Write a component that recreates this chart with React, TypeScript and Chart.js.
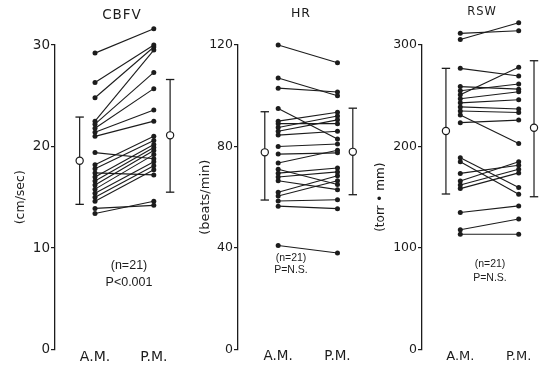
import React, { useEffect, useRef } from 'react';
import { Chart, registerables } from 'chart.js';

Chart.register(...registerables);

// ---------- data ----------
const xLabels = ['A.M.', 'P.M.'];

// CBFV (cm/sec)
const cbfvAM = [29.2, 26.3, 24.8, 22.5, 22.2, 21.8, 21.4, 21.0, 19.4, 18.2, 17.8, 17.4, 17.0, 16.6, 16.2, 15.8, 15.4, 15.0, 14.6, 13.9, 13.4];
const cbfvPM = [31.6, 30.0, 29.8, 29.5, 27.3, 25.7, 23.6, 22.5, 18.8, 21.0, 20.6, 17.2, 20.2, 19.9, 19.6, 19.2, 18.5, 18.1, 17.7, 14.2, 14.6];
const cbfvMean = [18.6, 21.1];
const cbfvLow = [14.3, 15.5];
const cbfvHigh = [22.9, 26.6];
const cbfvTicks = [0, 10, 20, 30];

// HR (beats/min)
const hrAM = [120, 107, 103, 95, 90, 89, 87.5, 86, 84.5, 80, 77, 73.5, 71, 69.5, 68, 66.5, 62, 60.5, 58.5, 56.5, 41];
const hrPM = [113, 100, 101.5, 83, 93.5, 89, 92, 90.5, 86, 81, 77.5, 78.5, 65, 71.5, 70, 63, 68.5, 66.5, 59, 55.5, 38];
const hrMean = [77.7, 77.9];
const hrLow = [58.9, 61.0];
const hrHigh = [93.7, 95.1];
const hrTicks = [0, 40, 80, 120];

// RSW (torr • mm)
const rswAM = [311.5, 305.5, 277, 259, 255, 251, 247, 243, 239, 235, 231, 223.5, 189, 185, 173.5, 166, 162, 158.5, 135, 118, 113.5];
const rswPM = [314, 322, 269.5, 256.5, 261.5, 278, 254, 246, 237, 233.5, 203, 226, 159.5, 153, 181.5, 185, 177.5, 174, 141.5, 128.5, 113.5];
const rswMean = [215.3, 218.5];
const rswLow = [153.2, 150.5];
const rswHigh = [277, 284.5];
const rswTicks = [0, 100, 200, 300];

// ---------- layout (page pixels) ----------
const W = 551;
const H = 369;
const PLOT_TOP = 45;
const PLOT_BOTTOM = 349.5;
const INK = '#1c1c1c';
const FONT = '"DejaVu Sans", sans-serif';

type Geom = {
  left: number; width: number; axis: number; am: number; pm: number;
  meanAm: number; meanPm: number; yTitleCenter: number; yTitleSize: number;
  titleX: number; titleY: number; titleSize: number;
  annX: number; nY: number; pY: number; annSize: number;
  xLabelSize: number; tickSize: number;
};

type Panel = {
  title: string; yTitle: string; am: number[]; pm: number[];
  mean: number[]; low: number[]; high: number[]; ticks: number[];
  nText: string; pText: string; geom: Geom;
};

const panels: Panel[] = [
  {
    title: 'CBFV', yTitle: '(cm/sec)', am: cbfvAM, pm: cbfvPM,
    mean: cbfvMean, low: cbfvLow, high: cbfvHigh, ticks: cbfvTicks,
    nText: '(n=21)', pText: 'P<0.001',
    geom: {
      left: 0, width: 190, axis: 55, am: 96.7, pm: 158, meanAm: 80.7, meanPm: 175,
      yTitleCenter: 21, yTitleSize: 12.5, titleX: 122, titleY: 15, titleSize: 13.5,
      annX: 129, nY: 266, pY: 283, annSize: 12.5, xLabelSize: 14, tickSize: 13.5,
    },
  },
  {
    title: 'HR', yTitle: '(beats/min)', am: hrAM, pm: hrPM,
    mean: hrMean, low: hrLow, high: hrHigh, ticks: hrTicks,
    nText: '(n=21)', pText: 'P=N.S.',
    geom: {
      left: 190, width: 175, axis: 238, am: 280, pm: 342, meanAm: 266, meanPm: 358,
      yTitleCenter: 206, yTitleSize: 13, titleX: 301, titleY: 14, titleSize: 12.5,
      annX: 291, nY: 258, pY: 270, annSize: 10.5, xLabelSize: 13.5, tickSize: 12.5,
    },
  },
  {
    title: 'RSW', yTitle: '(torr \u2022 mm)', am: rswAM, pm: rswPM,
    mean: rswMean, low: rswLow, high: rswHigh, ticks: rswTicks,
    nText: '(n=21)', pText: 'P=N.S.',
    geom: {
      left: 365, width: 186, axis: 422, am: 462, pm: 523, meanAm: 447, meanPm: 539,
      yTitleCenter: 381, yTitleSize: 12, titleX: 482, titleY: 12, titleSize: 11.5,
      annX: 490, nY: 264, pY: 278, annSize: 10.5, xLabelSize: 13, tickSize: 12.5,
    },
  },
];

// draws the points that Chart.js skips because they lie above the plot area
const overflowPointsPlugin = {
  id: 'overflowPoints',
  afterDatasetsDraw(chart: any) {
    const ctx = chart.ctx;
    const area = chart.chartArea;
    const wide = { left: -1e4, top: -1e4, right: 1e4, bottom: 1e4 };
    chart.data.datasets.forEach((_: any, di: number) => {
      const meta = chart.getDatasetMeta(di);
      (meta.data || []).forEach((el: any) => {
        if (el.y < area.top || el.y > area.bottom) el.draw(ctx, wide);
      });
    });
  },
};

function PanelChart({ p }: { p: Panel }) {
  const ref = useRef<HTMLCanvasElement>(null);

  useEffect(() => {
    if (!ref.current) return;
    const g = p.geom;
    const unit = g.pm - g.am;
    const toVal = (px: number) => 1 + (px - g.am) / unit;
    const xMin = toVal(g.axis);
    const xMax = toVal(g.left + g.width);
    const meanXs = [toVal(g.meanAm), toVal(g.meanPm)];
    const yMax = p.ticks[p.ticks.length - 1];

    const datasets: any[] = [];
    datasets.push({
      data: meanXs.map((mx, i) => ({ x: mx, y: p.mean[i] })),
      showLine: false,
      pointStyle: 'circle',
      pointRadius: 3.6,
      pointBackgroundColor: '#ffffff',
      pointBorderColor: INK,
      pointBorderWidth: 1.2,
      clip: false,
      order: 0,
    });
    meanXs.forEach((mx, i) => {
      datasets.push({
        data: [{ x: mx, y: p.low[i] }, { x: mx, y: p.high[i] }],
        showLine: true,
        borderColor: INK,
        borderWidth: 1.2,
        pointStyle: 'line',
        pointRadius: 4.2,
        pointBorderColor: INK,
        pointBorderWidth: 1.3,
        clip: false,
        order: 1,
      });
    });
    p.am.forEach((v, i) => {
      datasets.push({
        data: [{ x: 1, y: v }, { x: 2, y: p.pm[i] }],
        showLine: true,
        borderColor: INK,
        borderWidth: 1.1,
        pointRadius: 2.5,
        pointBackgroundColor: INK,
        pointBorderColor: INK,
        pointBorderWidth: 0,
        clip: false,
        order: 2,
      });
    });

    const textPlugin = {
      id: 'panelText',
      afterDraw(chart: any) {
        const ctx = chart.ctx as CanvasRenderingContext2D;
        ctx.save();
        ctx.fillStyle = INK;
        ctx.textAlign = 'center';
        ctx.textBaseline = 'middle';
        (ctx as any).letterSpacing = '1px';
        ctx.font = `${g.titleSize}px ${FONT}`;
        ctx.fillText(p.title, g.titleX - g.left, g.titleY);
        (ctx as any).letterSpacing = '0px';
        ctx.font = `${g.annSize}px "Liberation Sans", sans-serif`;
        ctx.fillText(p.nText, g.annX - g.left, g.nY);
        ctx.fillText(p.pText, g.annX - g.left, g.pY);
        ctx.restore();
      },
    };

    const chart = new Chart(ref.current, {
      type: 'scatter',
      data: { datasets },
      plugins: [overflowPointsPlugin, textPlugin],
      options: {
        animation: false,
        responsive: false,
        events: [],
        layout: { padding: { top: PLOT_TOP, left: 0, right: 0, bottom: 0 } },
        plugins: { legend: { display: false }, tooltip: { enabled: false }, title: { display: false } },
        scales: {
          x: {
            type: 'linear',
            min: xMin,
            max: xMax,
            afterBuildTicks: (s: any) => { s.ticks = xLabels.map((_, i) => ({ value: i + 1 })); },
            afterFit: (s: any) => { s.height = H - PLOT_BOTTOM; },
            grid: { display: false, drawTicks: false },
            border: { display: false },
            ticks: {
              autoSkip: false,
              maxRotation: 0,
              padding: -1,
              color: INK,
              font: { family: FONT, size: g.xLabelSize },
              callback: (v: any) => xLabels[Math.round(Number(v)) - 1] ?? '',
            },
          },
          y: {
            type: 'linear',
            min: 0,
            max: yMax,
            afterBuildTicks: (s: any) => { s.ticks = p.ticks.map((v) => ({ value: v })); },
            afterFit: (s: any) => { s.width = g.axis - g.left; },
            grid: { drawOnChartArea: false, drawTicks: true, tickLength: 4, color: INK, lineWidth: 1.2 },
            border: { display: true, color: INK, width: 1.3 },
            ticks: {
              color: INK,
              padding: 1,
              font: { family: FONT, size: g.tickSize },
            },
            title: {
              display: true,
              text: p.yTitle,
              color: INK,
              font: { family: FONT, size: g.yTitleSize },
              padding: { top: g.yTitleCenter - g.left - (g.yTitleSize * 1.2) / 2, bottom: 0 },
            },
          },
        },
      } as any,
    });
    return () => chart.destroy();
  }, [p]);

  return (
    <canvas
      ref={ref}
      width={p.geom.width}
      height={H}
      style={{ position: 'absolute', left: p.geom.left, top: 0, width: p.geom.width, height: H }}
    />
  );
}

export default function App() {
  return (
    <div style={{ position: 'absolute', left: 0, top: 0, width: W, height: H, background: '#ffffff', overflow: 'hidden' }}>
      {panels.map((p) => (
        <PanelChart key={p.title} p={p} />
      ))}
    </div>
  );
}
